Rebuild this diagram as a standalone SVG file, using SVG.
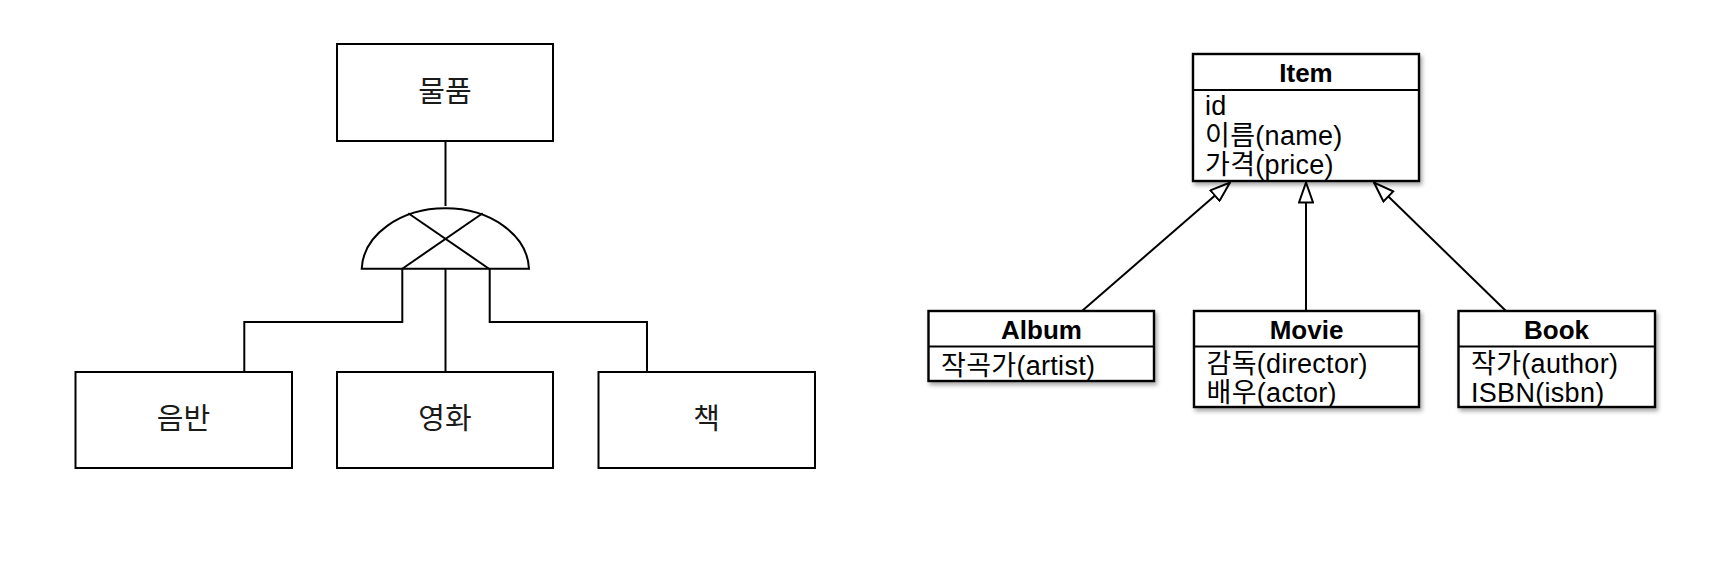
<svg xmlns="http://www.w3.org/2000/svg" width="1734" height="564" viewBox="0 0 1734 564">
  <style>
    .box { fill: #fff; stroke: #000; stroke-width: 2; }
    .uml { fill: #fff; stroke: #000; stroke-width: 2.4; }
    .sep { stroke: #000; stroke-width: 2; }
    .ln { fill: none; stroke: #000; stroke-width: 2; }
    .ko { font-family: "Noto Sans CJK KR", "Liberation Sans", sans-serif; font-size: 29px; fill: #1a1a1a; text-anchor: middle; dominant-baseline: central; }
    .hd { font-family: "Liberation Sans", "Noto Sans CJK KR", sans-serif; font-size: 26px; font-weight: bold; fill: #000; text-anchor: middle; }
    .at { font-family: "Liberation Sans", "Noto Sans CJK KR", sans-serif; font-size: 27px; letter-spacing: 0.3px; fill: #000; }
  </style>
  <defs>
    <filter id="shadow" x="-10%" y="-10%" width="130%" height="140%">
      <feDropShadow dx="2" dy="3" stdDeviation="2" flood-color="#000" flood-opacity="0.35"/>
    </filter>
    <marker id="tri" viewBox="0 0 22 16" refX="21" refY="8" markerWidth="22" markerHeight="16" markerUnits="userSpaceOnUse" orient="auto">
      <path d="M1,1 L21,8 L1,15 Z" fill="#fff" stroke="#000" stroke-width="2" stroke-linejoin="miter"/>
    </marker>
  </defs>
  <rect width="1734" height="564" fill="#fff"/>

  <!-- left: ER-style diagram -->
  <g id="connectors-left">
    <path class="ln" d="M445.5,141 L445.5,206"/>
    <path class="ln" d="M361.7,268.7 A83.7,62.5 0 0 1 529,268.7 Z"/>
    <path class="ln" d="M402.3,268.7 L482.7,213.3"/>
    <path class="ln" d="M489,268.7 L408.3,213.3"/>
    <path class="ln" d="M402.3,268.7 L402.3,322 L244.3,322 L244.3,372"/>
    <path class="ln" d="M445.5,268.7 L445.5,372"/>
    <path class="ln" d="M489.7,268.7 L489.7,322 L647,322 L647,372"/>
  </g>
  <g id="node-mulpum">
    <rect class="box" x="337" y="44" width="216" height="97"/>
    <text class="ko" x="445" y="88.5">물품</text>
  </g>
  <g id="node-eumban">
    <rect class="box" x="75.5" y="372" width="216.5" height="96"/>
    <text class="ko" x="183.5" y="416">음반</text>
  </g>
  <g id="node-yeonghwa">
    <rect class="box" x="337" y="372" width="216" height="96"/>
    <text class="ko" x="445" y="416">영화</text>
  </g>
  <g id="node-chaek">
    <rect class="box" x="598.5" y="372" width="216.5" height="96"/>
    <text class="ko" x="706.5" y="416">책</text>
  </g>

  <!-- right: UML class diagram -->
  <g id="connectors-right">
    <path class="ln" d="M1082,311 L1230,182.5" marker-end="url(#tri)"/>
    <path class="ln" d="M1306,311 L1306,182.5" marker-end="url(#tri)"/>
    <path class="ln" d="M1506,311 L1374,182.5" marker-end="url(#tri)"/>
  </g>
  <g id="node-item">
    <rect class="uml" x="1193" y="54" width="226" height="127" filter="url(#shadow)"/>
    <line class="sep" x1="1193" y1="90" x2="1419" y2="90"/>
    <text class="hd" x="1306" y="81.5">Item</text>
    <text class="at" x="1205" y="115">id</text>
    <text class="at" x="1205" y="144.5">이름(name)</text>
    <text class="at" x="1205" y="174">가격(price)</text>
  </g>
  <g id="node-album">
    <rect class="uml" x="928.5" y="311" width="225.5" height="70" filter="url(#shadow)"/>
    <line class="sep" x1="928.5" y1="346.5" x2="1154" y2="346.5"/>
    <text class="hd" x="1041.5" y="338.5">Album</text>
    <text class="at" x="941" y="374.5">작곡가(artist)</text>
  </g>
  <g id="node-movie">
    <rect class="uml" x="1194" y="311" width="225" height="96" filter="url(#shadow)"/>
    <line class="sep" x1="1194" y1="346.5" x2="1419" y2="346.5"/>
    <text class="hd" x="1306.5" y="338.5">Movie</text>
    <text class="at" x="1206.5" y="373">감독(director)</text>
    <text class="at" x="1206.5" y="402">배우(actor)</text>
  </g>
  <g id="node-book">
    <rect class="uml" x="1458.5" y="311" width="196.5" height="96" filter="url(#shadow)"/>
    <line class="sep" x1="1458.5" y1="346.5" x2="1655" y2="346.5"/>
    <text class="hd" x="1556.5" y="338.5">Book</text>
    <text class="at" x="1471" y="373">작가(author)</text>
    <text class="at" x="1471" y="402">ISBN(isbn)</text>
  </g>
</svg>
